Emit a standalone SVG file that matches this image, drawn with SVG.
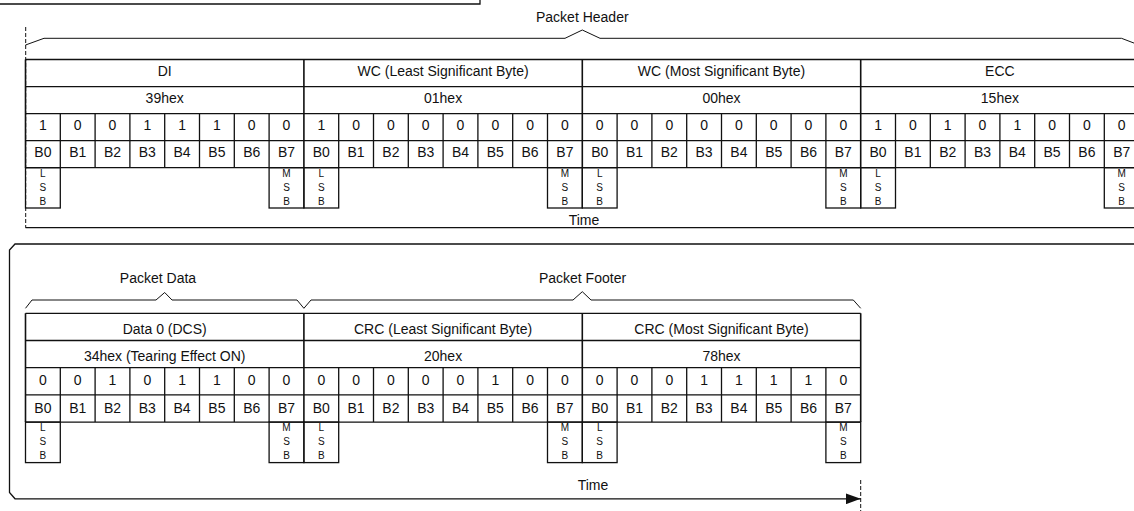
<svg xmlns="http://www.w3.org/2000/svg" width="1134" height="511" viewBox="0 0 1134 511">
<defs>
<style>
.t{font-family:"Liberation Sans",Arial,sans-serif;font-size:14px;fill:#111;text-anchor:middle}
.s{font-family:"Liberation Sans",Arial,sans-serif;font-size:10px;fill:#111;text-anchor:middle}
.ln{fill:none;stroke:#111;stroke-width:1.3}
.mj{fill:none;stroke:#111;stroke-width:1.6}
.br{fill:none;stroke:#111;stroke-width:1}
.da{fill:none;stroke:#111;stroke-width:1;stroke-dasharray:4 2}
</style>
<marker id="arr" viewBox="0 0 15 11" refX="15" refY="5.5" markerWidth="15" markerHeight="11" markerUnits="userSpaceOnUse" orient="auto">
<path d="M0 0L15 5.5L0 11Z" fill="#111"/>
</marker>
</defs>
<rect width="1134" height="511" fill="#fff"/>

<g id="top-crop">
<path class="ln" d="M0 4H480V0"/>
</g>

<g id="connectors">
<path class="da" d="M25.7 27V227.7"/>
<path class="ln" d="M25.5 227.7H1134"/>
<path class="ln" d="M1134 244H15L9.5 250V492.5L15 498.8H860.7" marker-end="url(#arr)"/>
<path class="da" d="M860.7 480V511"/>
<path class="br" d="M25.5 45L44 38.3H565L582.3 30L600 38.3H1121.5L1139 45"/>
<path class="br" d="M25.5 308.3L32 300H156L164.7 292.5L172 300H297L303.9 308.3"/>
<path class="br" d="M303.9 308.3L311 300H573L582.3 291.7L591 300H853.3L860.7 308.3"/>
</g>

<g id="labels">
<text class="t" x="582.3" y="21.5">Packet Header</text>
<text class="t" x="584" y="225">Time</text>
<text class="t" x="158" y="283">Packet Data</text>
<text class="t" x="582.5" y="283">Packet Footer</text>
<text class="t" x="593" y="490">Time</text>
</g>

<g id="header-table">
<path class="ln" d="M25.5 59.5H1139.1M25.5 86.55H1139.1M25.5 113.6H1139.1M25.5 140.65H1139.1M25.5 167.7H1139.1"/>
<path class="mj" d="M25.5 59.5V167.7M303.9 59.5V167.7M582.3 59.5V167.7M860.7 59.5V167.7"/>
<path class="ln" d="M60.3 113.6V167.7M95.1 113.6V167.7M129.9 113.6V167.7M164.7 113.6V167.7M199.5 113.6V167.7M234.3 113.6V167.7M269.1 113.6V167.7M338.7 113.6V167.7M373.5 113.6V167.7M408.3 113.6V167.7M443.1 113.6V167.7M477.9 113.6V167.7M512.7 113.6V167.7M547.5 113.6V167.7M617.1 113.6V167.7M651.9 113.6V167.7M686.7 113.6V167.7M721.5 113.6V167.7M756.3 113.6V167.7M791.1 113.6V167.7M825.9 113.6V167.7M895.5 113.6V167.7M930.3 113.6V167.7M965.1 113.6V167.7M999.9 113.6V167.7M1034.7 113.6V167.7M1069.5 113.6V167.7M1104.3 113.6V167.7"/>
<g id="hdr-di">
<text class="t" x="164.7" y="76">DI</text>
<text class="t" x="164.7" y="103">39hex</text>
</g>
<g id="hdr-wcl">
<text class="t" x="443.1" y="76">WC (Least Significant Byte)</text>
<text class="t" x="443.1" y="103">01hex</text>
</g>
<g id="hdr-wcm">
<text class="t" x="721.5" y="76">WC (Most Significant Byte)</text>
<text class="t" x="721.5" y="103">00hex</text>
</g>
<g id="hdr-ecc">
<text class="t" x="999.9" y="76">ECC</text>
<text class="t" x="999.9" y="103">15hex</text>
</g>
<g id="hdr-bits">
<text class="t" x="42.9" y="130">1</text><text class="t" x="77.7" y="130">0</text><text class="t" x="112.5" y="130">0</text><text class="t" x="147.3" y="130">1</text><text class="t" x="182.1" y="130">1</text><text class="t" x="216.9" y="130">1</text><text class="t" x="251.7" y="130">0</text><text class="t" x="286.5" y="130">0</text>
<text class="t" x="321.3" y="130">1</text><text class="t" x="356.1" y="130">0</text><text class="t" x="390.9" y="130">0</text><text class="t" x="425.7" y="130">0</text><text class="t" x="460.5" y="130">0</text><text class="t" x="495.3" y="130">0</text><text class="t" x="530.1" y="130">0</text><text class="t" x="564.9" y="130">0</text>
<text class="t" x="599.7" y="130">0</text><text class="t" x="634.5" y="130">0</text><text class="t" x="669.3" y="130">0</text><text class="t" x="704.1" y="130">0</text><text class="t" x="738.9" y="130">0</text><text class="t" x="773.7" y="130">0</text><text class="t" x="808.5" y="130">0</text><text class="t" x="843.3" y="130">0</text>
<text class="t" x="878.1" y="130">1</text><text class="t" x="912.9" y="130">0</text><text class="t" x="947.7" y="130">1</text><text class="t" x="982.5" y="130">0</text><text class="t" x="1017.3" y="130">1</text><text class="t" x="1052.1" y="130">0</text><text class="t" x="1086.9" y="130">0</text><text class="t" x="1121.7" y="130">0</text>
</g>
<g id="hdr-bnames">
<text class="t" x="42.9" y="157">B0</text><text class="t" x="77.7" y="157">B1</text><text class="t" x="112.5" y="157">B2</text><text class="t" x="147.3" y="157">B3</text><text class="t" x="182.1" y="157">B4</text><text class="t" x="216.9" y="157">B5</text><text class="t" x="251.7" y="157">B6</text><text class="t" x="286.5" y="157">B7</text>
<text class="t" x="321.3" y="157">B0</text><text class="t" x="356.1" y="157">B1</text><text class="t" x="390.9" y="157">B2</text><text class="t" x="425.7" y="157">B3</text><text class="t" x="460.5" y="157">B4</text><text class="t" x="495.3" y="157">B5</text><text class="t" x="530.1" y="157">B6</text><text class="t" x="564.9" y="157">B7</text>
<text class="t" x="599.7" y="157">B0</text><text class="t" x="634.5" y="157">B1</text><text class="t" x="669.3" y="157">B2</text><text class="t" x="704.1" y="157">B3</text><text class="t" x="738.9" y="157">B4</text><text class="t" x="773.7" y="157">B5</text><text class="t" x="808.5" y="157">B6</text><text class="t" x="843.3" y="157">B7</text>
<text class="t" x="878.1" y="157">B0</text><text class="t" x="912.9" y="157">B1</text><text class="t" x="947.7" y="157">B2</text><text class="t" x="982.5" y="157">B3</text><text class="t" x="1017.3" y="157">B4</text><text class="t" x="1052.1" y="157">B5</text><text class="t" x="1086.9" y="157">B6</text><text class="t" x="1121.7" y="157">B7</text>
</g>
<g id="hdr-lsbmsb">
<rect class="ln" x="25.5" y="167.7" width="34.8" height="40.3"/>
<rect class="ln" x="269.1" y="167.7" width="34.8" height="40.3"/>
<rect class="ln" x="303.9" y="167.7" width="34.8" height="40.3"/>
<rect class="ln" x="547.5" y="167.7" width="34.8" height="40.3"/>
<rect class="ln" x="582.3" y="167.7" width="34.8" height="40.3"/>
<rect class="ln" x="825.9" y="167.7" width="34.8" height="40.3"/>
<rect class="ln" x="860.7" y="167.7" width="34.8" height="40.3"/>
<rect class="ln" x="1104.3" y="167.7" width="34.8" height="40.3"/>
<text class="s" x="42.9" y="177">L</text><text class="s" x="42.9" y="191">S</text><text class="s" x="42.9" y="205">B</text>
<text class="s" x="286.5" y="177">M</text><text class="s" x="286.5" y="191">S</text><text class="s" x="286.5" y="205">B</text>
<text class="s" x="321.3" y="177">L</text><text class="s" x="321.3" y="191">S</text><text class="s" x="321.3" y="205">B</text>
<text class="s" x="564.9" y="177">M</text><text class="s" x="564.9" y="191">S</text><text class="s" x="564.9" y="205">B</text>
<text class="s" x="599.7" y="177">L</text><text class="s" x="599.7" y="191">S</text><text class="s" x="599.7" y="205">B</text>
<text class="s" x="843.3" y="177">M</text><text class="s" x="843.3" y="191">S</text><text class="s" x="843.3" y="205">B</text>
<text class="s" x="878.1" y="177">L</text><text class="s" x="878.1" y="191">S</text><text class="s" x="878.1" y="205">B</text>
<text class="s" x="1121.7" y="177">M</text><text class="s" x="1121.7" y="191">S</text><text class="s" x="1121.7" y="205">B</text>
</g>
</g>

<g id="payload-table">
<path class="ln" d="M25.5 313.3H860.7M25.5 340.5H860.7M25.5 367.7H860.7M25.5 394.9H860.7M25.5 422.1H860.7"/>
<path class="mj" d="M25.5 313.3V422.1M303.9 313.3V422.1M582.3 313.3V422.1M860.7 313.3V422.1"/>
<path class="ln" d="M60.3 367.7V422.1M95.1 367.7V422.1M129.9 367.7V422.1M164.7 367.7V422.1M199.5 367.7V422.1M234.3 367.7V422.1M269.1 367.7V422.1M338.7 367.7V422.1M373.5 367.7V422.1M408.3 367.7V422.1M443.1 367.7V422.1M477.9 367.7V422.1M512.7 367.7V422.1M547.5 367.7V422.1M617.1 367.7V422.1M651.9 367.7V422.1M686.7 367.7V422.1M721.5 367.7V422.1M756.3 367.7V422.1M791.1 367.7V422.1M825.9 367.7V422.1"/>
<g id="pl-data0">
<text class="t" x="164.7" y="334">Data 0 (DCS)</text>
<text class="t" x="164.7" y="361">34hex (Tearing Effect ON)</text>
</g>
<g id="pl-crcl">
<text class="t" x="443.1" y="334">CRC (Least Significant Byte)</text>
<text class="t" x="443.1" y="361">20hex</text>
</g>
<g id="pl-crcm">
<text class="t" x="721.5" y="334">CRC (Most Significant Byte)</text>
<text class="t" x="721.5" y="361">78hex</text>
</g>
<g id="pl-bits">
<text class="t" x="42.9" y="385">0</text><text class="t" x="77.7" y="385">0</text><text class="t" x="112.5" y="385">1</text><text class="t" x="147.3" y="385">0</text><text class="t" x="182.1" y="385">1</text><text class="t" x="216.9" y="385">1</text><text class="t" x="251.7" y="385">0</text><text class="t" x="286.5" y="385">0</text>
<text class="t" x="321.3" y="385">0</text><text class="t" x="356.1" y="385">0</text><text class="t" x="390.9" y="385">0</text><text class="t" x="425.7" y="385">0</text><text class="t" x="460.5" y="385">0</text><text class="t" x="495.3" y="385">1</text><text class="t" x="530.1" y="385">0</text><text class="t" x="564.9" y="385">0</text>
<text class="t" x="599.7" y="385">0</text><text class="t" x="634.5" y="385">0</text><text class="t" x="669.3" y="385">0</text><text class="t" x="704.1" y="385">1</text><text class="t" x="738.9" y="385">1</text><text class="t" x="773.7" y="385">1</text><text class="t" x="808.5" y="385">1</text><text class="t" x="843.3" y="385">0</text>
</g>
<g id="pl-bnames">
<text class="t" x="42.9" y="412.5">B0</text><text class="t" x="77.7" y="412.5">B1</text><text class="t" x="112.5" y="412.5">B2</text><text class="t" x="147.3" y="412.5">B3</text><text class="t" x="182.1" y="412.5">B4</text><text class="t" x="216.9" y="412.5">B5</text><text class="t" x="251.7" y="412.5">B6</text><text class="t" x="286.5" y="412.5">B7</text>
<text class="t" x="321.3" y="412.5">B0</text><text class="t" x="356.1" y="412.5">B1</text><text class="t" x="390.9" y="412.5">B2</text><text class="t" x="425.7" y="412.5">B3</text><text class="t" x="460.5" y="412.5">B4</text><text class="t" x="495.3" y="412.5">B5</text><text class="t" x="530.1" y="412.5">B6</text><text class="t" x="564.9" y="412.5">B7</text>
<text class="t" x="599.7" y="412.5">B0</text><text class="t" x="634.5" y="412.5">B1</text><text class="t" x="669.3" y="412.5">B2</text><text class="t" x="704.1" y="412.5">B3</text><text class="t" x="738.9" y="412.5">B4</text><text class="t" x="773.7" y="412.5">B5</text><text class="t" x="808.5" y="412.5">B6</text><text class="t" x="843.3" y="412.5">B7</text>
</g>
<g id="pl-lsbmsb">
<rect class="ln" x="25.5" y="422.1" width="34.8" height="40.5"/>
<rect class="ln" x="269.1" y="422.1" width="34.8" height="40.5"/>
<rect class="ln" x="303.9" y="422.1" width="34.8" height="40.5"/>
<rect class="ln" x="547.5" y="422.1" width="34.8" height="40.5"/>
<rect class="ln" x="582.3" y="422.1" width="34.8" height="40.5"/>
<rect class="ln" x="825.9" y="422.1" width="34.8" height="40.5"/>
<text class="s" x="42.9" y="431.4">L</text><text class="s" x="42.9" y="445.4">S</text><text class="s" x="42.9" y="459.4">B</text>
<text class="s" x="286.5" y="431.4">M</text><text class="s" x="286.5" y="445.4">S</text><text class="s" x="286.5" y="459.4">B</text>
<text class="s" x="321.3" y="431.4">L</text><text class="s" x="321.3" y="445.4">S</text><text class="s" x="321.3" y="459.4">B</text>
<text class="s" x="564.9" y="431.4">M</text><text class="s" x="564.9" y="445.4">S</text><text class="s" x="564.9" y="459.4">B</text>
<text class="s" x="599.7" y="431.4">L</text><text class="s" x="599.7" y="445.4">S</text><text class="s" x="599.7" y="459.4">B</text>
<text class="s" x="843.3" y="431.4">M</text><text class="s" x="843.3" y="445.4">S</text><text class="s" x="843.3" y="459.4">B</text>
</g>
</g>
</svg>
